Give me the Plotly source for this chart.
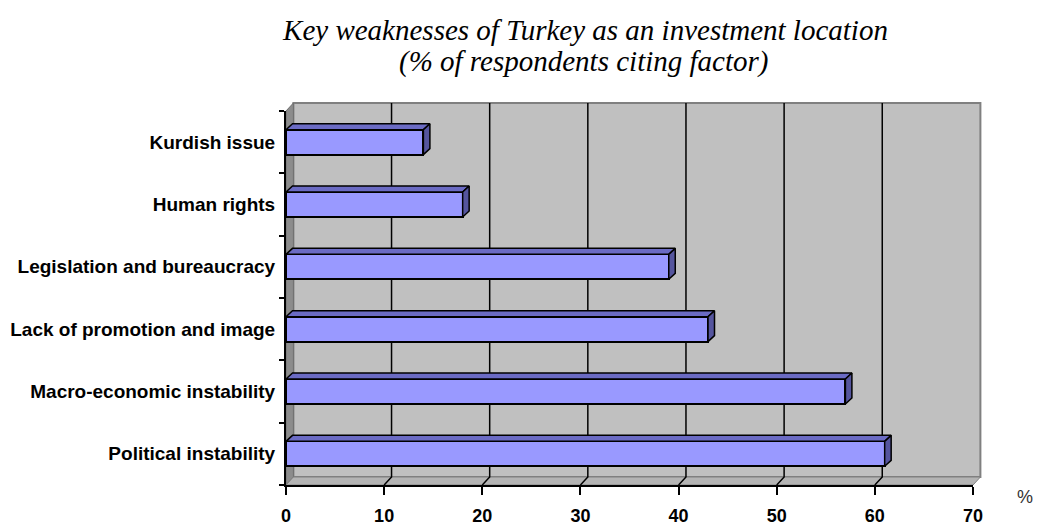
import plotly.graph_objects as go

# ---- data ----
categories = ["Political instability", "Macro-economic instability", "Lack of promotion and image",
              "Legislation and bureaucracy", "Human rights", "Kurdish issue"]
values = [61, 57, 43, 39, 18, 14]
x_ticks = [0, 10, 20, 30, 40, 50, 60, 70]
title_line1 = "Key weaknesses of Turkey as an investment location"
title_line2 = "(% of respondents citing factor)"

# ---- geometry / style ----
W, H = 1037, 527
ML, MR, MT, MB = 286, 64, 111, 42
PW = W - ML - MR
PH = H - MT - MB
XMAX = x_ticks[-1]
n = len(categories)
px_per_x = PW / XMAX
px_per_cat = PH / n

WALL_DX, WALL_DY = 7.4, 8.0      # depth of the 3D box, px
BAR_DX, BAR_DY = 6.5, 6.0        # depth of the bars, px
BAR_W = 0.4

FRONT = "#9999ff"
TOP = "#6b6bc4"
SIDE = "#55559e"
WALL = "#c0c0c0"
TITLE_FONT = dict(family="Liberation Serif", size=29, color="black", style="italic")

pos = list(range(n))
wdx, wdy = WALL_DX / PW, WALL_DY / PH
bdx, bdy = BAR_DX / px_per_x, BAR_DY / px_per_cat

fig = go.Figure()

# 3D faces of the bars (top + side), computed from the values
for c, v in zip(pos, values):
    h = BAR_W / 2
    fig.add_trace(go.Scatter(
        x=[0, v, v + bdx, bdx, 0], y=[c + h, c + h, c + h + bdy, c + h + bdy, c + h],
        mode="lines", fill="toself", fillcolor=TOP, line=dict(color="black", width=1.5),
        hoverinfo="skip", showlegend=False))
    fig.add_trace(go.Scatter(
        x=[v, v + bdx, v + bdx, v, v], y=[c - h, c - h + bdy, c + h + bdy, c + h, c - h],
        mode="lines", fill="toself", fillcolor=SIDE, line=dict(color="black", width=1.5),
        hoverinfo="skip", showlegend=False))

fig.add_trace(go.Bar(
    y=pos, x=values, orientation="h", width=BAR_W,
    marker=dict(color=FRONT, line=dict(color="black", width=2)),
    hovertext=categories, showlegend=False))

shapes = []
# back wall
shapes.append(dict(type="rect", xref="paper", yref="paper", layer="below",
                   x0=wdx, x1=1 + wdx, y0=wdy, y1=1 + wdy,
                   fillcolor=WALL, line=dict(color="#808080", width=2)))
# left side wall
shapes.append(dict(type="path", xref="paper", yref="paper", layer="below",
                   path=f"M 0,0 L 0,1 L {wdx},{1 + wdy} L {wdx},{wdy} Z",
                   fillcolor="#8c8c8c", line=dict(color="#707070", width=1)))
# floor
shapes.append(dict(type="path", xref="paper", yref="paper", layer="below",
                   path=f"M 0,0 L 1,0 L {1 + wdx},{wdy} L {wdx},{wdy} Z",
                   fillcolor="#b4b4b4", line=dict(color="#808080", width=1)))
# gridlines on back wall + floor
for t in x_ticks[1:-1]:
    f = t / XMAX
    shapes.append(dict(type="path", xref="paper", yref="paper", layer="below",
                       path=f"M {f + wdx},{1 + wdy} L {f + wdx},{wdy} L {f},0",
                       line=dict(color="black", width=1.5)))

fig.update_layout(
    width=W, height=H,
    margin=dict(l=ML, r=MR, t=MT, b=MB, autoexpand=False),
    paper_bgcolor="white", plot_bgcolor="rgba(0,0,0,0)",
    shapes=shapes,
    bargap=0,
    title=dict(text=title_line1, font=TITLE_FONT,
               x=585.5 / W, xanchor="center", xref="container",
               y=1 - 30 / H, yanchor="middle", yref="container", automargin=False),
    xaxis=dict(range=[0, XMAX], tickmode="array", tickvals=x_ticks, automargin=False,
               ticks="outside", ticklen=8, tickwidth=2, tickcolor="black",
               showline=True, linecolor="black", linewidth=2,
               showgrid=False, zeroline=False, ticklabelstandoff=5,
               tickfont=dict(family="Liberation Sans", size=18, color="black", weight="bold")),
    yaxis=dict(range=[-0.5, n - 0.5], tickmode="array", tickvals=pos, ticktext=categories,
               automargin=False,
               ticks="", showline=True, linecolor="black", linewidth=2,
               showgrid=False, zeroline=False, ticklabelstandoff=5,
               minor=dict(tickmode="array", tickvals=[i - 0.5 for i in range(n + 1)],
                          ticks="outside", ticklen=5, tickwidth=2, tickcolor="black"),
               tickfont=dict(family="Liberation Sans", size=19, color="black", weight="bold")),
    annotations=[
        dict(text=title_line2, xref="paper", yref="paper",
             x=(583.5 - ML) / PW, y=(H - MB - 62) / PH,
             xanchor="center", yanchor="middle", showarrow=False, font=TITLE_FONT),
        dict(text="%", xref="paper", yref="paper",
             x=(1025 - ML) / PW, y=(H - MB - 497) / PH,
             xanchor="center", yanchor="middle", showarrow=False,
             font=dict(family="Liberation Sans", size=18, color="#333333"))],
)

fig.write_html("out.html", config={"displayModeBar": False},
               post_script="document.body.style.margin='0px';document.body.style.overflow='hidden';")
